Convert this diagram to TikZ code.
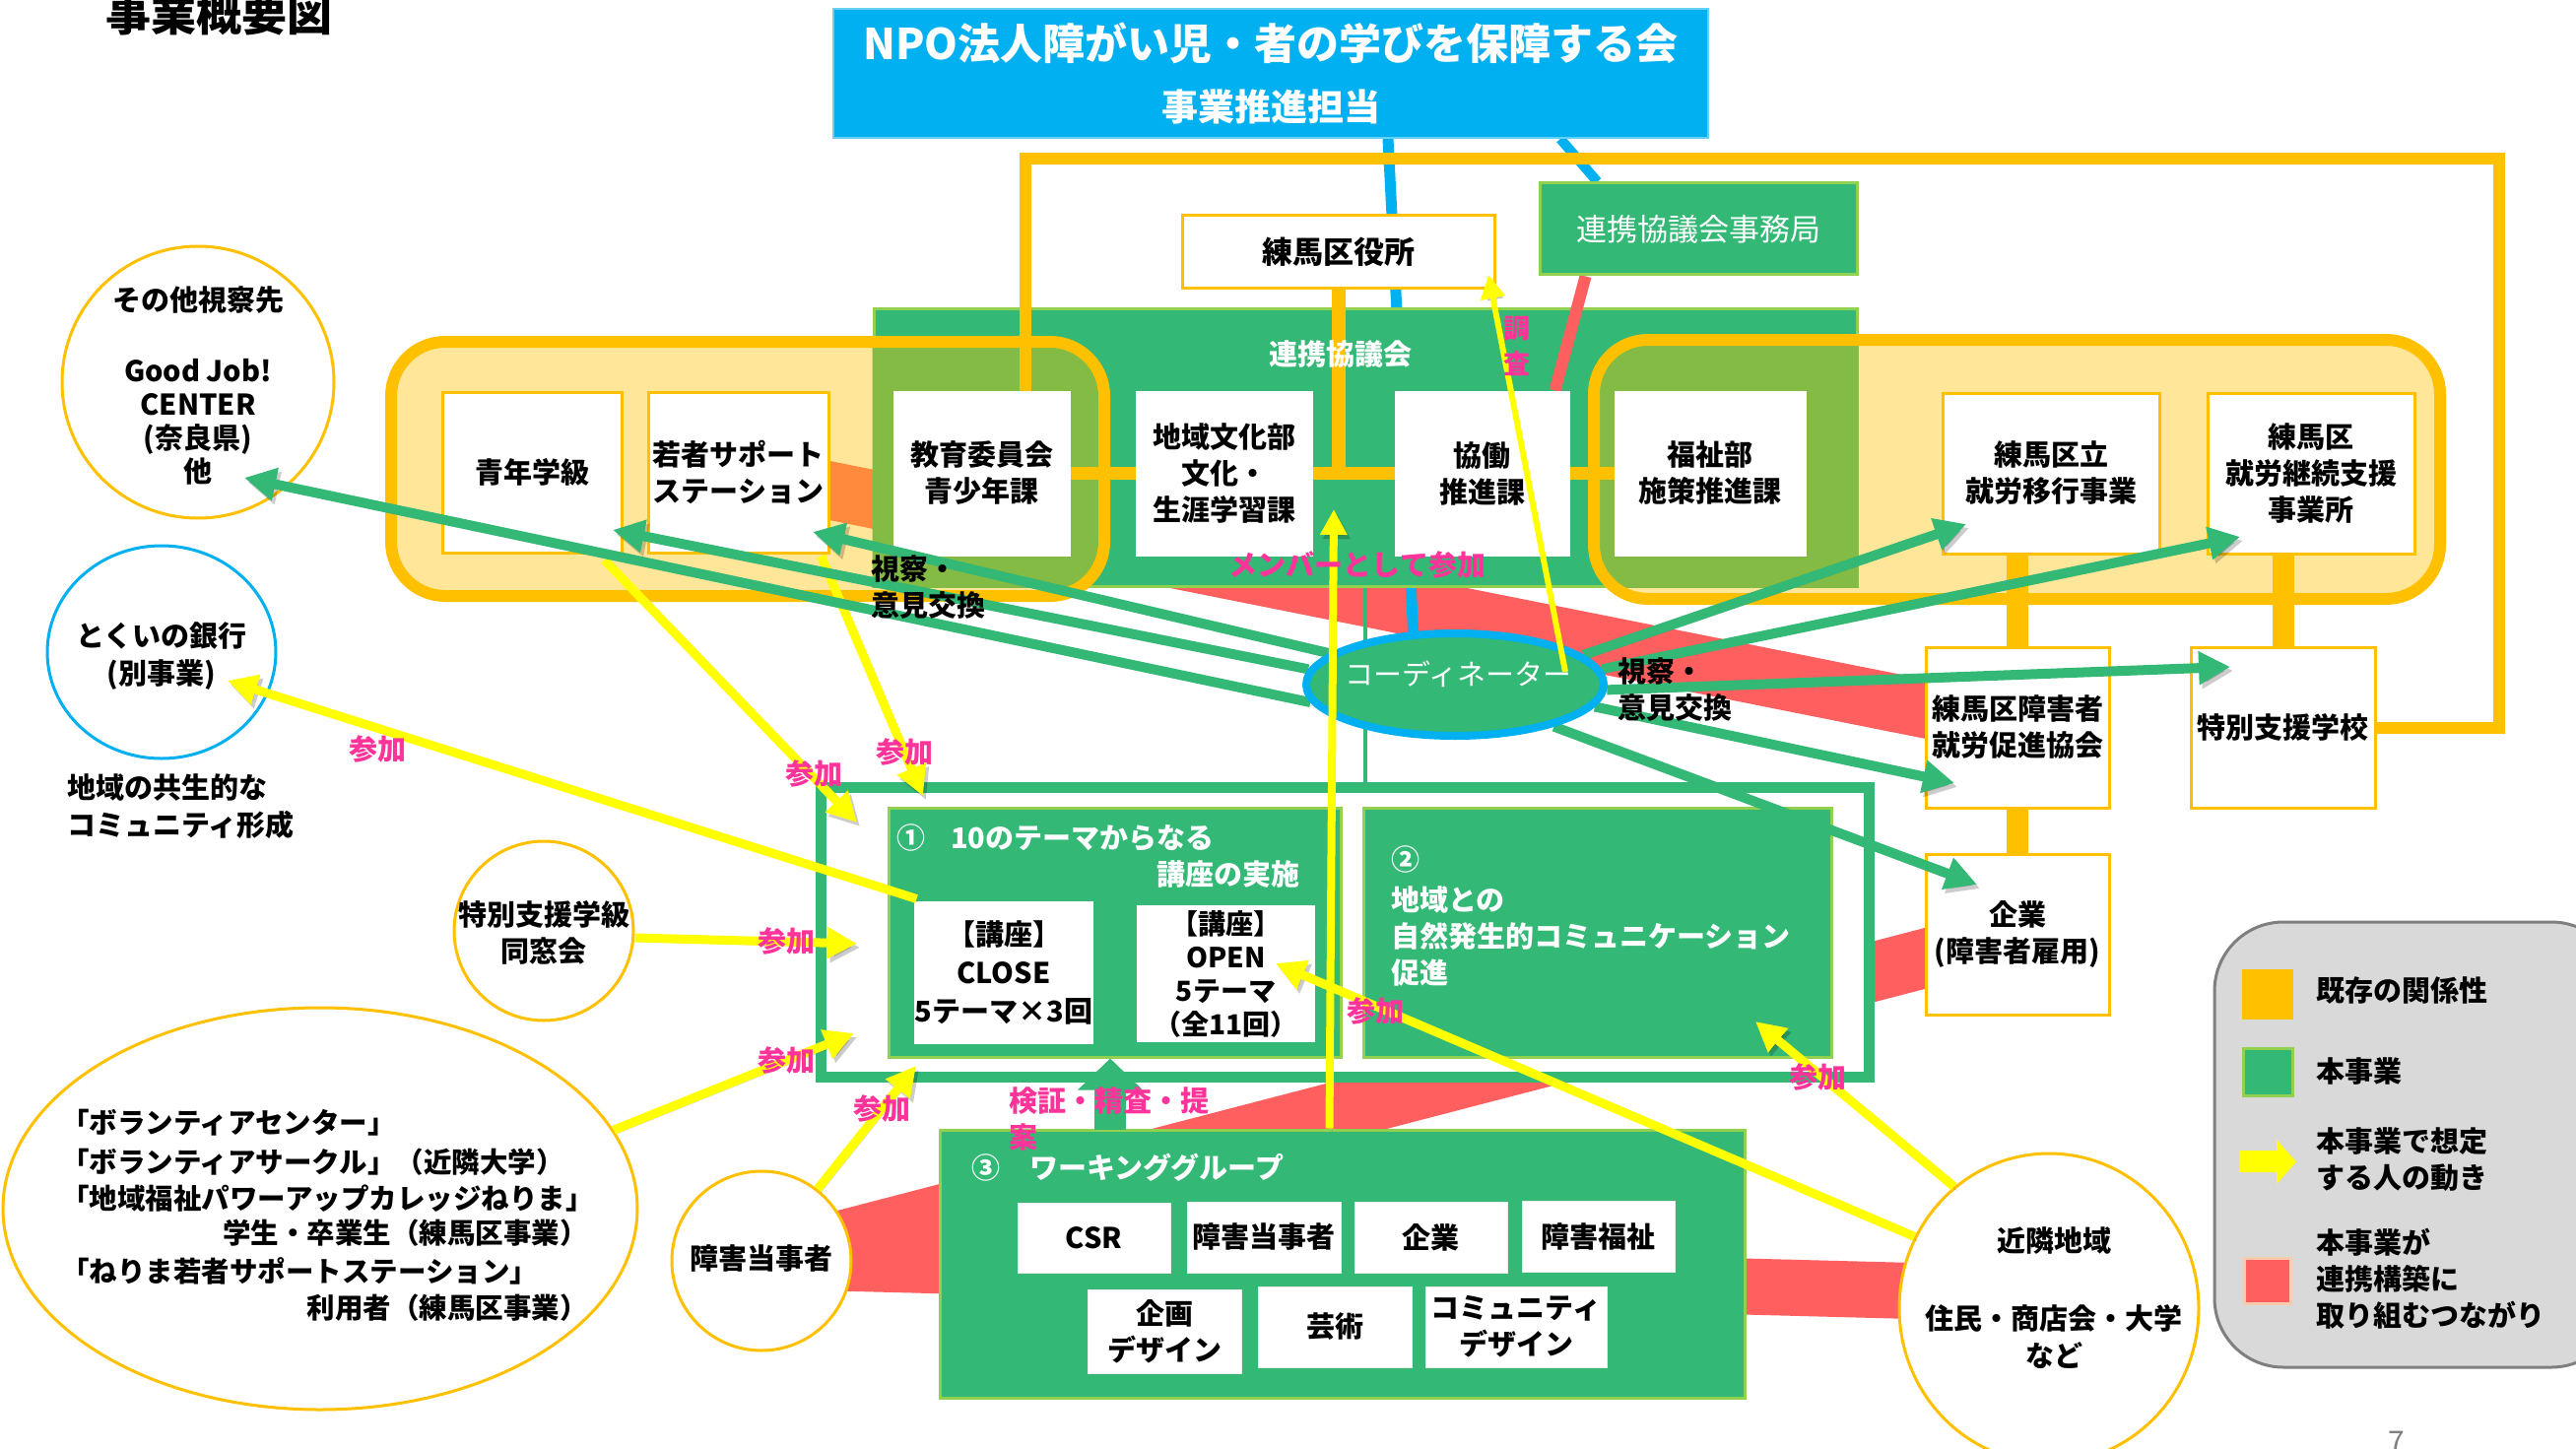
\documentclass[tikz,border=0pt]{standalone}
\usepackage{fontspec}
\setmainfont{Noto Sans CJK JP}
\usetikzlibrary{arrows.meta,calc,shapes.geometric}
\definecolor{ORG}{HTML}{FFC000}
\definecolor{LY}{HTML}{FFE699}
\definecolor{GRN}{HTML}{33B876}
\definecolor{LG}{HTML}{92D050}
\definecolor{OLV}{HTML}{84BB44}
\definecolor{CYN}{HTML}{00B0F0}
\definecolor{CRL}{HTML}{FF5F5F}
\definecolor{ORB}{HTML}{FF8A3D}
\definecolor{PNK}{HTML}{FF3399}
\definecolor{YEL}{HTML}{FFFF00}
\definecolor{LGRY}{HTML}{D9D9D9}
\definecolor{GRY}{HTML}{7F7F7F}
\definecolor{PALE}{HTML}{F8CBAD}
\newcommand\fsz[2]{\fontsize{#1}{#2}\selectfont}
\pgfdeclarelayer{bg}\pgfdeclarelayer{b1}\pgfdeclarelayer{b2}\pgfdeclarelayer{b3}
\pgfdeclarelayer{f1}\pgfdeclarelayer{f2}\pgfdeclarelayer{f3}
\pgfsetlayers{bg,b1,b2,b3,main,f1,f2,f3}
\begin{document}
\begin{tikzpicture}[x=1pt,y=-1pt,
  shd/.style={preaction={draw=black,opacity=0.2,transform canvas={xshift=3pt,yshift=-4pt}}},
  wbox/.style={draw=ORG,line width=3pt,fill=white,align=center,inner sep=0pt,font=\bfseries\fsz{29}{37}},
  gbox/.style={draw=LG,line width=3pt,fill=GRN,inner sep=0pt},
  wgi/.style={fill=white,draw=black!8,line width=1pt,align=center,inner sep=0pt,font=\bfseries\fsz{29}{37}},
  circ/.style={ellipse,draw=ORG,line width=3pt,fill=white,inner sep=0pt},
  txt/.style={inner sep=0pt,align=center,font=\bfseries\fsz{29}{37}},
  wtxt/.style={txt,text=white},
  lbl/.style={inner sep=0pt,align=center,text=PNK,font=\bfseries\fsz{29}{36}},
  yarr/.style={draw=YEL,line width=9pt,-{Triangle[length=30pt,width=30pt]},shd},
  garr/.style={draw=GRN,line width=10pt,-{Triangle[length=32pt,width=32pt]},shd},
]
\useasboundingbox (0,0) rectangle (2615,1471);
\begin{pgfonlayer}{bg}
\fill[white] (0,0) rectangle (2615,1471);
\end{pgfonlayer}

% ---------- title and top ----------
\node[txt,font=\bfseries\fsz{46}{46}] (title) at (222,14) {事業概要図};
\node[fill=CYN,draw=CYN!60!white,line width=2pt,minimum width=888,minimum height=131,inner sep=0pt] (npo) at (1290,74.5) {};
\node[wtxt,font=\bfseries\fsz{43}{43}] (npoT1) at (1290,44) {NPO法人障がい児・者の学びを保障する会};
\node[wtxt,font=\bfseries\fsz{37}{37}] (npoT2) at (1290,108) {事業推進担当};
\node[wbox,font=\bfseries\fsz{31}{37},minimum width=317,minimum height=74] (kuyakusho) at (1358.5,256) {練馬区役所};
\node[fill=GRN,draw=LG,line width=3pt,minimum width=322,minimum height=93,inner sep=0pt,text=white,font=\fsz{31}{37}] (jimukyoku) at (1724,232.5) {連携協議会事務局};

% ---------- council ----------
\begin{pgfonlayer}{b3}
\node[gbox,minimum width=998,minimum height=282] (renkei) at (1386,454) {};
\end{pgfonlayer}
\node[wtxt] (renkeiT) at (1361,360) {連携協議会};

\node[wbox,minimum width=182,minimum height=163] (seinen) at (540,479.5) {青年学級};
\node[wbox,minimum width=183,minimum height=163] (wakamono) at (749.5,479.5) {若者サポート\\ステーション};
\node[wbox,draw=white,minimum width=177,minimum height=165] (kyoiku) at (996.5,480.5) {教育委員会\\青少年課};
\node[wbox,draw=white,minimum width=177,minimum height=165] (chiiki) at (1242.5,480.5) {地域文化部\\文化・\\生涯学習課};
\node[wbox,draw=white,minimum width=175,minimum height=165] (kyodo) at (1504.5,480.5) {協働\\推進課};
\node[wbox,draw=white,minimum width=192,minimum height=165] (fukushi) at (1736,480.5) {福祉部\\施策推進課};
\node[wbox,minimum width=220,minimum height=163] (iko) at (2082,480.5) {練馬区立\\就労移行事業};
\node[wbox,minimum width=210,minimum height=163] (keizoku) at (2346,480.5) {練馬区\\就労継続支援\\事業所};
\node[wbox,minimum width=186,minimum height=163] (sokushin) at (2048,738.5) {練馬区障害者\\就労促進協会};
\node[wbox,minimum width=187,minimum height=163] (school) at (2317.5,738.5) {特別支援学校};
\node[wbox,minimum width=186,minimum height=163] (kigyo) at (2048,948.5) {企業\\(障害者雇用)};

% ---------- circles ----------
\node[circ,minimum width=276,minimum height=276] (sonota) at (201,388) {};
\node[txt,font=\bfseries\fsz{29}{34}] (sonotaT) at (201,391) {その他視察先\\[38pt]Good Job!\\CENTER\\(奈良県)\\他};
\node[circ,draw=CYN,minimum width=232,minimum height=216] (tokui) at (164,662) {};
\node[txt,font=\bfseries\fsz{29}{38}] (tokuiT) at (164,666) {とくいの銀行\\(別事業)};
\node[txt,anchor=west,align=left,font=\bfseries\fsz{29}{38}] (kyoseiT) at (68,819) {地域の共生的な\\コミュニティ形成};
\node[circ,minimum width=182,minimum height=182] (dosokai) at (552,945) {};
\node[txt] (dosokaiT) at (552,947) {特別支援学級\\同窓会};
\node[circ,minimum width=644,minimum height=408] (vol) at (325,1227) {};
\node[txt,anchor=west,font=\bfseries\fsz{28.5}{36}] (v1) at (62,1140) {「ボランティアセンター」};
\node[txt,anchor=west,font=\bfseries\fsz{28.5}{36}] (v2) at (62,1180) {「ボランティアサークル」（近隣大学）};
\node[txt,anchor=west,font=\bfseries\fsz{28.5}{36}] (v3) at (62,1217) {「地域福祉パワーアップカレッジねりま」};
\node[txt,anchor=east,font=\bfseries\fsz{28.5}{36}] (v4) at (597,1252) {学生・卒業生（練馬区事業）};
\node[txt,anchor=west,font=\bfseries\fsz{28.5}{36}] (v5) at (62,1290) {「ねりま若者サポートステーション」};
\node[txt,anchor=east,font=\bfseries\fsz{28.5}{36}] (v6) at (597,1328) {利用者（練馬区事業）};
\node[circ,minimum width=182,minimum height=182] (tojisha) at (773,1280) {};
\node[txt] (tojishaT) at (773,1278) {障害当事者};
\node[circ,minimum width=304,minimum height=314] (kinrin) at (2080,1328) {};
\node[txt,font=\bfseries\fsz{29}{38}] (kinrinT) at (2085,1318) {近隣地域\\[41pt]住民・商店会・大学\\など};

% ---------- project frame ----------
\node[draw=GRN,line width=11pt,fill=white,minimum width=1064,minimum height=294,inner sep=0pt] (frame) at (1365,946) {};
\node[gbox,minimum width=459,minimum height=253] (box1) at (1131.5,946.5) {};
\node[gbox,minimum width=475,minimum height=253] (box2) at (1621.5,946.5) {};
\node[wtxt,anchor=west] (box1T) at (910,851) {①\hspace{26pt}10のテーマからなる};
\node[wtxt,anchor=east] (box1T2) at (1320,888) {講座の実施};
\node[wgi,draw=none,minimum width=182,minimum height=145,font=\bfseries\fsz{29}{39}] (close) at (1019,987.5) {【講座】\\CLOSE\\5テーマ×3回};
\node[wgi,draw=none,minimum width=181,minimum height=139,font=\bfseries\fsz{28}{34}] (open) at (1244.5,988.5) {【講座】\\OPEN\\5テーマ\\（全11回）};
\node[wtxt,anchor=west] (box2N) at (1412,872) {②};
\node[wtxt,anchor=west,align=left] (box2T) at (1412,950) {地域との\\自然発生的コミュニケーション\\促進};

\node[gbox,minimum width=817,minimum height=272] (wg) at (1362.5,1283) {};
\node[wtxt,anchor=west] (wgT) at (986,1185) {③\hspace{30pt}ワーキンググループ};
\node[wgi,minimum width=155,minimum height=71] (csr) at (1110.5,1256.5) {CSR};
\node[wgi,minimum width=156,minimum height=72] (wtoj) at (1283,1256) {障害当事者};
\node[wgi,minimum width=155,minimum height=72] (wkig) at (1452.5,1256) {企業};
\node[wgi,minimum width=155,minimum height=72] (wfuk) at (1622.5,1255) {障害福祉};
\node[wgi,minimum width=156,minimum height=85] (kikaku) at (1182,1351.5) {企画\\デザイン};
\node[wgi,minimum width=156,minimum height=82] (geijutsu) at (1355,1347) {芸術};
\node[wgi,minimum width=184,minimum height=82] (comm) at (1539,1347) {コミュニティ\\デザイン};
\coordinate (upS) at (1127,1147);
\draw[GRN,line width=32pt,-{Triangle[length=32pt,width=64pt]}] (upS) -- (upS |- box1.south);

% ---------- legend ----------
\draw[fill=LGRY,draw=GRY,line width=3pt,rounded corners=70] (2248,936) rectangle (2660,1388);
\node[fill=ORG,minimum width=52,minimum height=51,inner sep=0pt] (lsq1) at (2302,1009.5) {};
\node[fill=GRN,draw=LG,line width=3pt,minimum width=50,minimum height=48,inner sep=0pt] (lsq2) at (2302,1088) {};
\node[fill=CRL,draw=PALE,line width=3pt,minimum width=47,minimum height=46,inner sep=0pt] (lsq4) at (2301.5,1300) {};
\fill[YEL] (2273,1168) -- (2311,1168) -- (2311,1157) -- (2331,1179.5) -- (2311,1202) -- (2311,1190) -- (2273,1190) -- cycle;
\node[txt,anchor=west] (lt1) at (2351,1006) {既存の関係性};
\node[txt,anchor=west] (lt2) at (2351,1087) {本事業};
\node[txt,anchor=west,align=left] (lt3) at (2351,1177) {本事業で想定\\する人の動き};
\node[txt,anchor=west,align=left] (lt4) at (2351,1298) {本事業が\\連携構築に\\取り組むつながり};
\node[anchor=base,inner sep=0pt,text=GRY,font=\fsz{30}{30}] (pnum) at (2433,1474) {7};

% ---------- coordinator ----------
\begin{pgfonlayer}{f2}
\node[ellipse,fill=GRN,draw=CYN,line width=8pt,minimum width=302,minimum height=104,inner sep=0pt] (coord) at (1477,695) {};
\node[wtxt,font=\fsz{29}{29}] (coordT) at (1480,684) {コーディネーター};
\end{pgfonlayer}

% ---------- background bands and lines ----------
\begin{pgfonlayer}{b1}
\draw[CRL,line width=59pt] (wakamono.center) -- (sokushin.center);
\draw[CRL,line width=60pt] (tojisha.center) -- (kigyo.center);
\coordinate (kinrinB) at (2000,1312);
\draw[CRL,line width=57pt] (tojisha.center) -- (kinrinB);
\draw[CYN,line width=11pt] ($(npo.south)+(119,0)$) -- ($(coord.north)+(-42,10)$);
\draw[CYN,line width=10pt] ($(npo.south)+(294,0)$) -- ($(jimukyoku.north west)+(60,0)$);
\end{pgfonlayer}

\begin{pgfonlayer}{b2}
\fill[LY,rounded corners=55] (397,347) rectangle (1121,605);
\fill[LY,rounded corners=55] (1618,345) rectangle (2477,608);
\begin{scope}
\clip[rounded corners=55] (397,347) rectangle (1121,605);
\draw[ORB,line width=59pt] (wakamono.center) -- (sokushin.center);
\end{scope}
\end{pgfonlayer}

\begin{pgfonlayer}{b3}
\begin{scope}
\clip (renkei.south west) rectangle (renkei.north east);
\fill[OLV,rounded corners=55] (397,347) rectangle (1121,605);
\fill[OLV,rounded corners=55] (1618,345) rectangle (2477,608);
\end{scope}
\draw[ORG,line width=12pt,rounded corners=55] (397,347) rectangle (1121,605);
\draw[ORG,line width=12pt,rounded corners=55] (1618,345) rectangle (2477,608);
\coordinate (fr1) at ($(kyoiku.north)+(44.5,0)$);
\coordinate (frc) at (2537,161);
\draw[ORG,line width=12pt] (fr1) |- (frc) |- (school.east);
\draw[ORG,line width=13pt] (kyoiku.east) -- (fukushi.west);
\draw[ORG,line width=14pt] (kuyakusho.south) -- (kuyakusho.south |- kyoiku.east);
\draw[ORG,line width=22pt] (sokushin.north |- iko.south) -- (sokushin.north);
\draw[ORG,line width=22pt] (sokushin.south) -- (kigyo.north);
\draw[ORG,line width=22pt] (school.north |- keizoku.south) -- (school.north);
\draw[CRL,line width=12pt] ($(jimukyoku.south west)+(48,0)$) -- ($(kyodo.north east)+(-15,0)$);
\draw[GRN,line width=4pt] (renkei.south) -- (renkei.south |- frame.north);
\end{pgfonlayer}

% ---------- yellow arrows (people) ----------
\coordinate (t1) at (870,835);
\coordinate (t2) at (937,808);
\coordinate (t3) at (231,691);
\coordinate (t4) at (870,958);
\coordinate (t5) at (867,1049);
\coordinate (t6) at (930,1082);
\coordinate (t9) at (1295,978);
\coordinate (t10) at (1782,1037);
\draw[yarr] ($(seinen.south east)+(-19,6)$) -- (t1);
\draw[yarr] ($(wakamono.south east)+(-9,2)$) -- (t2);
\draw[yarr] ($(close.north west)+(3,-2)$) -- (t3);
\draw[yarr] ($(dosokai.east)+(0,7)$) -- (t4);
\draw[yarr] (vol.15) -- (t5);
\draw[yarr] (tojisha.52) -- (t6);
\draw[yarr] (kinrin.152) -- (t9);
\draw[yarr] (kinrin.128) -- (t10);

% ---------- green arrows (visits) ----------
\begin{pgfonlayer}{f1}
\coordinate (gA) at (248,485);
\coordinate (gB) at (622,538);
\coordinate (gC) at (825,540);
\coordinate (gD) at (1996,532);
\coordinate (gE) at (2274,545);
\coordinate (gF) at (2264,677);
\coordinate (gG) at (1984,795);
\coordinate (gH) at (2007,898);
\draw[garr] (coord.187) -- (gA);
\draw[garr] (coord.174) -- (gB);
\draw[garr] (coord.166) -- (gC);
\draw[garr] (coord.13.6) -- (gD);
\draw[garr] (coord.6) -- (gE);
\draw[garr] (coord.358) -- (gF);
\draw[garr] (coord.351) -- (gG);
\draw[garr] (coord.337) -- (gH);
\end{pgfonlayer}

% ---------- top layer ----------
\begin{pgfonlayer}{f3}
\coordinate (t7) at (1354,517);
\coordinate (t8) at (1511,279);
\draw[yarr,line width=8pt,-{Triangle[length=26pt,width=26pt]}] ($(wg.north west)+(397,0)$) -- (t7);
\draw[yarr,line width=6pt,-{Triangle[length=24pt,width=24pt]}] ($(coord.center)+(112,-13)$) -- (t8);
\node[lbl] (s1) at (826,785) {参加};
\node[lbl] (s2) at (918,763) {参加};
\node[lbl] (s3) at (383,760) {参加};
\node[lbl] (s4) at (798,955) {参加};
\node[lbl] (s5) at (798,1076) {参加};
\node[lbl] (s6) at (895,1125) {参加};
\node[lbl] (s7) at (1396,1026) {参加};
\node[lbl] (s8) at (1845,1093) {参加};
\node[lbl] (member) at (1378,573) {メンバーとして参加};
\node[lbl,font=\bfseries\fsz{27}{36}] (chosa) at (1540,351) {調\\査};
\node[lbl,anchor=west,align=left,font=\bfseries\fsz{29}{37}] (kensho) at (1024,1136) {検証・精査・提\\案};
\node[txt,anchor=west,align=left] (shisatsuL) at (884,596) {視察・\\意見交換};
\node[txt,anchor=west,align=left] (shisatsuR) at (1642,700) {視察・\\意見交換};
\end{pgfonlayer}
\end{tikzpicture}
\end{document}
